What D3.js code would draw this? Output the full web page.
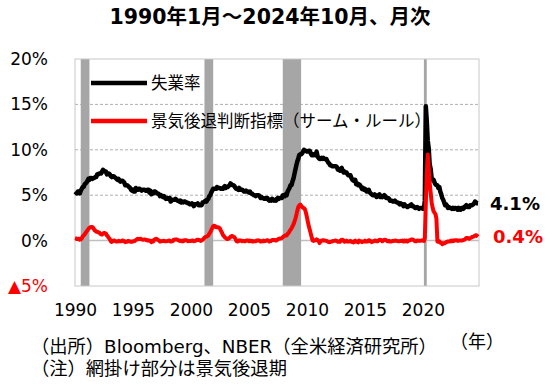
<!DOCTYPE html>
<html>
<head>
<meta charset="utf-8">
<script src="https://cdn.jsdelivr.net/npm/d3@7"></script>
<style>
  body { margin: 0; background: #fff; }
  svg { display: block; font-family: "DejaVu Sans", "Noto Sans CJK JP", sans-serif; }
</style>
</head>
<body>
<svg id="chart" width="550" height="390"></svg>
<script>
// US unemployment rate (%), monthly, 1990-01 .. 2024-10
const unemployment = [
  5.4,5.3,5.2,5.4,5.4,5.2,5.5,5.7,5.9,5.9,6.2,6.3,
  6.4,6.6,6.8,6.7,6.9,6.9,6.8,6.9,6.9,7.0,7.0,7.3,
  7.3,7.4,7.4,7.4,7.6,7.8,7.7,7.6,7.6,7.3,7.4,7.4,
  7.3,7.1,7.0,7.1,7.1,7.0,6.9,6.8,6.7,6.8,6.6,6.5,
  6.6,6.6,6.5,6.4,6.1,6.1,6.1,6.0,5.9,5.8,5.6,5.5,
  5.6,5.4,5.4,5.8,5.6,5.6,5.7,5.7,5.6,5.5,5.6,5.6,
  5.6,5.5,5.5,5.6,5.6,5.3,5.5,5.1,5.2,5.2,5.4,5.4,
  5.3,5.2,5.2,5.1,4.9,5.0,4.9,4.8,4.9,4.7,4.6,4.7,
  4.6,4.6,4.7,4.3,4.4,4.5,4.5,4.5,4.6,4.5,4.4,4.4,
  4.3,4.4,4.2,4.3,4.2,4.3,4.3,4.2,4.2,4.1,4.1,4.0,
  4.0,4.1,4.0,3.8,4.0,4.0,4.0,4.1,3.9,3.9,3.9,3.9,
  4.2,4.2,4.3,4.4,4.3,4.5,4.6,4.9,5.0,5.3,5.5,5.7,
  5.7,5.7,5.7,5.9,5.8,5.8,5.8,5.7,5.7,5.7,5.9,6.0,
  5.8,5.9,5.9,6.0,6.1,6.3,6.2,6.1,6.1,6.0,5.8,5.7,
  5.7,5.6,5.8,5.6,5.6,5.6,5.5,5.4,5.4,5.5,5.4,5.4,
  5.3,5.4,5.2,5.2,5.1,5.0,5.0,4.9,5.0,5.0,5.0,4.9,
  4.7,4.8,4.7,4.7,4.6,4.6,4.7,4.7,4.5,4.4,4.5,4.4,
  4.6,4.5,4.4,4.5,4.4,4.6,4.7,4.6,4.7,4.7,4.7,5.0,
  5.0,4.9,5.1,5.0,5.4,5.6,5.8,6.1,6.1,6.5,6.8,7.3,
  7.8,8.3,8.7,9.0,9.4,9.5,9.5,9.6,9.8,10.0,9.9,9.9,
  9.8,9.8,9.9,9.9,9.6,9.4,9.4,9.5,9.5,9.4,9.8,9.3,
  9.1,9.0,9.0,9.1,9.0,9.1,9.0,9.0,9.0,8.8,8.6,8.5,
  8.3,8.3,8.2,8.2,8.2,8.2,8.2,8.1,7.8,7.8,7.7,7.9,
  8.0,7.7,7.5,7.6,7.5,7.5,7.3,7.2,7.2,7.2,6.9,6.7,
  6.6,6.7,6.7,6.2,6.3,6.1,6.2,6.1,5.9,5.7,5.8,5.6,
  5.7,5.5,5.4,5.4,5.6,5.3,5.2,5.1,5.0,5.0,5.1,5.0,
  4.8,4.9,5.0,5.1,4.8,4.9,4.8,4.9,5.0,4.9,4.7,4.7,
  4.7,4.6,4.4,4.4,4.4,4.3,4.3,4.4,4.3,4.2,4.2,4.1,
  4.0,4.1,4.0,4.0,3.8,4.0,3.8,3.8,3.7,3.8,3.8,3.9,
  4.0,3.8,3.8,3.7,3.6,3.6,3.7,3.6,3.5,3.6,3.6,3.6,
  3.5,3.5,4.4,14.8,13.2,11.0,10.2,8.4,7.9,6.9,6.7,6.7,
  6.4,6.2,6.1,6.1,5.8,5.9,5.4,5.1,4.7,4.5,4.2,3.9,
  4.0,3.8,3.6,3.7,3.6,3.6,3.5,3.6,3.5,3.6,3.6,3.5,
  3.4,3.6,3.5,3.4,3.6,3.6,3.5,3.7,3.8,3.9,3.7,3.7,
  3.7,3.9,3.9,3.9,4.0,4.1,4.3,4.2,4.1,4.1
];

// Sahm rule indicator (%pt), monthly, same months
const sahmRule = [
  0.27,0.24,0.17,0.17,0.20,0.10,0.14,0.24,0.47,0.56,0.70,0.83,
  1.00,1.13,1.30,1.40,1.47,1.50,1.50,1.40,1.17,1.10,0.97,0.97,
  0.90,0.90,0.77,0.70,0.67,0.77,0.83,0.83,0.76,0.57,0.46,0.27,
  0.17,-0.06,-0.14,-0.06,0.00,0.00,-0.07,-0.10,-0.10,-0.03,-0.07,-0.07,
  -0.06,0.00,0.00,-0.07,-0.17,-0.13,-0.10,-0.03,-0.07,-0.10,-0.13,-0.14,
  -0.06,-0.07,-0.03,0.06,0.13,0.20,0.16,0.20,0.20,0.13,0.10,0.10,
  0.13,0.10,0.06,0.00,0.04,-0.03,-0.03,-0.17,-0.03,-0.10,0.10,0.16,
  0.20,0.13,0.06,0.00,-0.10,-0.07,-0.07,-0.03,-0.03,-0.07,-0.07,-0.06,
  -0.04,0.00,0.00,-0.10,-0.06,-0.07,0.07,0.10,0.13,0.13,0.10,0.03,
  -0.03,0.00,-0.07,0.00,-0.07,0.04,0.04,0.04,0.00,-0.06,-0.04,-0.06,
  -0.04,0.00,0.00,-0.06,-0.04,0.00,0.07,0.10,0.07,0.04,-0.03,0.00,
  0.10,0.20,0.33,0.40,0.43,0.50,0.57,0.77,0.93,1.17,1.37,1.60,
  1.63,1.60,1.47,1.47,1.47,1.43,1.33,1.10,0.90,0.63,0.50,0.37,
  0.27,0.20,0.17,0.23,0.30,0.43,0.50,0.50,0.43,0.37,0.20,-0.04,
  -0.10,-0.06,0.03,0.00,0.00,-0.07,-0.03,-0.07,-0.07,0.00,0.00,0.00,
  -0.06,0.00,-0.07,-0.03,-0.10,-0.07,-0.07,-0.06,0.00,0.00,0.03,0.00,
  -0.10,-0.07,-0.07,0.00,-0.06,-0.04,0.00,0.04,0.00,-0.10,-0.06,-0.04,
  0.07,0.07,0.07,0.04,0.00,0.07,0.14,0.20,0.24,0.24,0.27,0.37,
  0.47,0.54,0.57,0.57,0.74,0.83,1.03,1.20,1.33,1.56,1.77,2.07,
  2.40,2.83,3.27,3.67,3.86,3.97,3.87,3.70,3.63,3.57,3.43,3.06,
  2.57,2.03,1.56,1.20,0.77,0.33,0.00,-0.04,0.04,0.04,0.14,0.07,
  -0.03,-0.27,-0.10,0.00,0.00,0.04,0.00,0.00,-0.03,-0.07,-0.13,-0.17,
  -0.16,-0.10,-0.10,-0.04,-0.03,0.00,0.00,-0.03,-0.14,-0.13,-0.13,0.03,
  0.10,0.10,-0.04,-0.13,-0.07,0.00,-0.10,-0.10,-0.10,-0.03,-0.10,-0.17,
  -0.20,-0.06,0.00,-0.14,-0.13,-0.20,0.00,-0.07,-0.06,-0.17,-0.10,-0.10,
  0.00,-0.10,-0.07,-0.10,0.04,0.00,-0.06,-0.17,-0.10,-0.07,0.00,0.00,
  -0.06,-0.07,0.00,0.10,0.07,0.03,-0.07,0.04,0.07,0.10,0.04,-0.06,
  -0.07,-0.03,-0.10,-0.10,-0.07,-0.03,-0.04,0.00,0.00,-0.03,-0.07,-0.06,
  -0.07,-0.03,-0.04,0.00,-0.10,0.00,-0.06,0.00,-0.10,0.00,0.00,0.06,
  0.13,0.13,0.10,0.00,-0.07,-0.07,0.00,0.00,-0.03,-0.03,0.00,0.03,
  0.00,-0.04,0.27,4.04,7.27,9.47,7.94,6.34,5.30,4.20,3.64,3.24,
  3.07,2.90,2.43,-0.10,-0.13,-0.07,-0.23,-0.23,-0.40,-0.30,-0.30,-0.27,
  -0.17,-0.13,-0.10,-0.10,-0.07,0.00,-0.06,0.00,-0.04,0.04,0.04,0.04,
  -0.03,0.00,0.00,0.00,0.00,0.03,0.07,0.10,0.17,0.30,0.30,0.27,
  0.20,0.27,0.33,0.40,0.43,0.47,0.56,0.60,0.53,0.43
];

// NBER recessions (first month, last month)
const recessions = [
  ["1990-07", "1991-03"],
  ["2001-03", "2001-11"],
  ["2007-12", "2009-06"],
  ["2020-02", "2020-04"]
];

const yearTicks = [1990, 1995, 2000, 2005, 2010, 2015, 2020];
const yTicks = [-5, 0, 5, 10, 15, 20];
const seriesNames = ["失業率", "景気後退判断指標（サーム・ルール）"];
const seriesColors = ["#000000", "#ff0000"];

const parseMonth = d3.timeParse("%Y-%m");
const months = d3.timeMonth.range(new Date(1990, 0, 1), new Date(2024, 10, 1));

const svg = d3.select("#chart"),
      margin = { top: 59, right: 71, bottom: 104, left: 75 },
      width = +svg.attr("width"),
      height = +svg.attr("height");

const x = d3.scaleTime()
  .domain([months[0], months[months.length - 1]])
  .range([margin.left, width - margin.right - 1]);

const y = d3.scaleLinear()
  .domain([-5, 20])
  .range([height - margin.bottom, margin.top]);

const x0 = margin.left, x1 = width - margin.right;

// gridlines
svg.append("g")
  .selectAll("line")
  .data(yTicks.filter(v => v > -5 && v < 20))
  .join("line")
  .attr("x1", x0).attr("x2", x1)
  .attr("y1", d => y(d)).attr("y2", d => y(d))
  .attr("stroke", d => d === 0 ? "#bfbfbf" : "#b0b0b0")
  .attr("stroke-width", d => d === 0 ? 1.5 : 1)
  .attr("stroke-dasharray", d => d === 0 ? null : "3,2");

// recession shading
svg.append("g")
  .selectAll("rect")
  .data(recessions)
  .join("rect")
  .attr("x", d => x(parseMonth(d[0])))
  .attr("width", d => x(d3.timeMonth.offset(parseMonth(d[1]), 1)) - x(parseMonth(d[0])))
  .attr("y", margin.top)
  .attr("height", y(-5) - y(20))
  .attr("fill", "#a6a6a6");

// plot frame
svg.append("rect")
  .attr("x", x0).attr("y", y(20))
  .attr("width", x1 - x0).attr("height", y(-5) - y(20))
  .attr("fill", "none")
  .attr("stroke", "#c8c8c8")
  .attr("stroke-width", 1);

// lines
const line = d3.line()
  .x((d, i) => x(months[i]))
  .y(d => y(d));

svg.append("path")
  .datum(unemployment)
  .attr("fill", "none")
  .attr("stroke", seriesColors[0])
  .attr("stroke-width", 4.5)
  .attr("stroke-linejoin", "round")
  .attr("d", line);

svg.append("path")
  .datum(sahmRule)
  .attr("fill", "none")
  .attr("stroke", seriesColors[1])
  .attr("stroke-width", 4)
  .attr("stroke-linejoin", "round")
  .attr("d", line);

// Y axis
const yAxis = svg.append("g")
  .attr("transform", `translate(${x0 - 27},0)`)
  .call(d3.axisLeft(y).tickValues(yTicks).tickSize(0)
    .tickFormat(d => d < 0 ? "▲" + Math.abs(d) + "%" : d + "%"));
yAxis.select(".domain").remove();
yAxis.selectAll("text")
  .attr("x", 0)
  .style("font-family", "DejaVu Sans, Noto Sans CJK JP, sans-serif")
  .style("font-size", "17px")
  .attr("fill", d => d < 0 ? "#ff0000" : "#000");

// X axis
const xAxis = svg.append("g")
  .attr("transform", `translate(0,${y(-5)})`)
  .call(d3.axisBottom(x)
    .tickValues(yearTicks.map(yr => new Date(yr, 0, 1)))
    .tickSize(0)
    .tickFormat(d3.timeFormat("%Y")));
xAxis.select(".domain").remove();
xAxis.selectAll("text")
  .attr("y", 18)
  .style("font-family", "DejaVu Sans, Noto Sans CJK JP, sans-serif")
  .style("font-size", "17px")
  .attr("fill", "#000");

// Title
svg.append("text")
  .attr("x", 270)
  .attr("y", 24)
  .attr("text-anchor", "middle")
  .style("font-size", "20.5px")
  .style("font-weight", "bold")
  .text("1990年1月～2024年10月、月次");

// Legend
const legend = svg.append("g");
seriesNames.forEach((name, i) => {
  const ly = 83 + i * 38;
  legend.append("line")
    .attr("x1", 91).attr("x2", 147)
    .attr("y1", ly).attr("y2", ly)
    .attr("stroke", seriesColors[i])
    .attr("stroke-width", 4.5);
  legend.append("text")
    .attr("x", 151)
    .attr("y", ly)
    .attr("dy", "0.35em")
    .style("font-family", "Noto Sans CJK JP, sans-serif")
    .style("font-size", "16.5px")
    .text(name);
});

// End labels
const last = months.length - 1;
svg.append("text")
  .attr("x", x(months[last]) + 12)
  .attr("y", y(unemployment[last]))
  .attr("dy", "0.36em")
  .style("font-size", "18px")
  .style("font-weight", "bold")
  .attr("fill", seriesColors[0])
  .text(unemployment[last].toFixed(1) + "%");
svg.append("text")
  .attr("x", x(months[last]) + 15)
  .attr("y", y(sahmRule[last]))
  .attr("dy", "0.36em")
  .style("font-size", "18px")
  .style("font-weight", "bold")
  .attr("fill", seriesColors[1])
  .text(sahmRule[last].toFixed(1) + "%");

// Notes
svg.append("text")
  .attr("x", 450).attr("y", 342).attr("dy", "0.35em")
  .style("font-size", "18px")
  .text("（年）");
svg.append("text")
  .attr("x", 31).attr("y", 347).attr("dy", "0.35em")
  .style("font-size", "18.3px")
  .text("（出所）Bloomberg、NBER（全米経済研究所）");
svg.append("text")
  .attr("x", 31).attr("y", 369).attr("dy", "0.35em")
  .style("font-size", "18.3px")
  .text("（注）網掛け部分は景気後退期");
</script>
</body>
</html>
